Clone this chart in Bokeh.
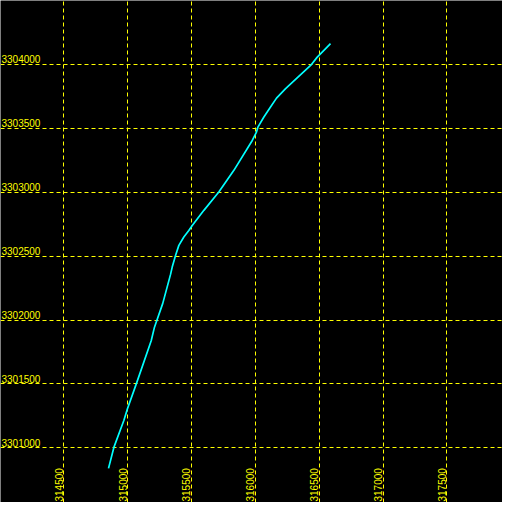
import math
from bokeh.plotting import figure
from bokeh.models import FixedTicker, Range1d
from bokeh.core.properties import value
from bokeh.embed import file_html
from bokeh.resources import INLINE

# Track coordinates (easting, northing)
track_x = [314850, 314892, 314970, 314999, 315069, 315185, 315210, 315275, 315336,
           315349, 315375, 315401, 315440, 315479, 315506, 315597, 315714, 315832,
           315976, 316009, 316020, 316067, 316119, 316166, 316237, 316433, 316485, 316589]
track_y = [3300839, 3301003, 3301214, 3301308, 3301504, 3301840, 3301944, 3302130, 3302357,
           3302414, 3302505, 3302584, 3302649, 3302701, 3302740, 3302858, 3303001, 3303171,
           3303405, 3303470, 3303509, 3303588, 3303666, 3303736, 3303810, 3303992, 3304057, 3304162]

x_ticks = [314500, 315000, 315500, 316000, 316500, 317000, 317500]
y_ticks = [3301000, 3301500, 3302000, 3302500, 3303000, 3303500, 3304000]
x_labels = [str(v) for v in x_ticks]
y_labels = [str(v) for v in y_ticks]

x_min, x_max = 314004, 317936
y_min, y_max = 3300572, 3304500

p = figure(width=502, height=502, output_backend="svg", toolbar_location=None,
           x_range=Range1d(x_min, x_max), y_range=Range1d(y_min, y_max),
           background_fill_color="black", border_fill_color="black",
           min_border=0, outline_line_color=None)
p.xaxis.visible = False
p.yaxis.visible = False
for g in (p.xgrid, p.ygrid):
    g.grid_line_color = "#FFFF00"
    g.grid_line_dash = "4 3"
    g.grid_line_width = 1
p.xgrid.ticker = FixedTicker(ticks=x_ticks)
p.ygrid.ticker = FixedTicker(ticks=y_ticks)

p.line(track_x, track_y, line_color="#00FFFF", line_width=1.7)

# y labels at left edge, above each grid line
p.text(x=[x_min] * len(y_ticks), y=y_ticks, text=y_labels,
       text_color="#FFFF00", text_font=value("Liberation Sans"), text_font_size="10px",
       text_align="left", text_baseline="alphabetic", x_offset=1, y_offset=-5)

# x labels rotated, at bottom, left of each grid line
p.text(x=x_ticks, y=[y_min] * len(x_ticks), text=x_labels, angle=math.pi / 2,
       text_color="#FFFF00", text_font=value("Liberation Sans"), text_font_size="10px",
       text_align="left", text_baseline="bottom", x_offset=-1, y_offset=-1)

open("out.html", "w").write(file_html(p, INLINE))
